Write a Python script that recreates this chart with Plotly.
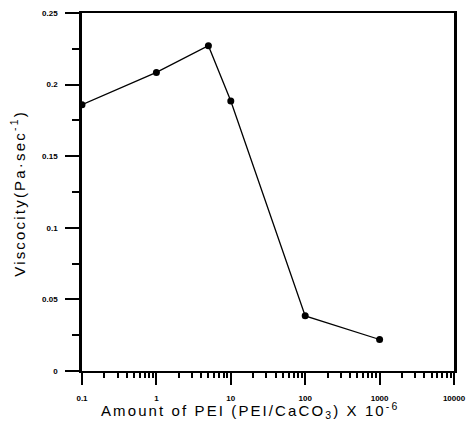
import plotly.graph_objects as go

pei_amount = [0.1, 1, 5, 10, 100, 1000]
viscosity = [0.186, 0.2085, 0.2272, 0.1885, 0.0385, 0.022]

x_tickvals = [0.1, 1, 10, 100, 1000, 10000]
x_ticktext = ["0.1", "1", "10", "100", "1000", "10000"]
y_tickvals = [0, 0.05, 0.1, 0.15, 0.2, 0.25]
y_ticktext = ["0", "0.05", "0.1", "0.15", "0.2", "0.25"]
y_minor_vals = [0.025, 0.075, 0.125, 0.175, 0.225]

minor_x = [m * d for d in [0.1, 1, 10, 100, 1000] for m in range(2, 10)]

font_family = "Liberation Sans, Arial, sans-serif"
tick_font = dict(size=8, family=font_family, weight="bold")

fig = go.Figure()
fig.add_trace(go.Scatter(
    x=pei_amount, y=viscosity, mode="lines+markers",
    line=dict(color="black", width=1.3),
    marker=dict(color="black", size=7),
    showlegend=False,
))
# empty helper trace so the overlay tick axes are drawn
fig.add_trace(go.Scatter(x=[], y=[], xaxis="x2", yaxis="y2",
                         showlegend=False, hoverinfo="skip"))

fig.update_layout(
    width=466, height=429,
    margin=dict(l=82, r=12, t=12.5, b=57.5, autoexpand=False),
    paper_bgcolor="white", plot_bgcolor="white",
    font=dict(family=font_family, color="black"),
    xaxis=dict(
        type="log", range=[-1, 4], automargin=False,
        tickmode="array", tickvals=x_tickvals, ticktext=x_ticktext,
        ticks="outside", ticklen=12, tickwidth=2, tickcolor="black",
        showline=True, linewidth=2, linecolor="black", mirror=True,
        showgrid=False, zeroline=False,
        tickfont=tick_font, ticklabelstandoff=6,
        minor=dict(tickvals=minor_x, ticks="outside", ticklen=5,
                   tickwidth=2, tickcolor="black", showgrid=False),
    ),
    yaxis=dict(
        range=[0, 0.25], automargin=False,
        tickmode="array", tickvals=y_tickvals, ticktext=y_ticktext,
        ticks="outside", ticklen=14, tickwidth=2, tickcolor="black",
        showline=True, linewidth=2.5, linecolor="black", mirror=True,
        showgrid=False, zeroline=False,
        tickfont=tick_font, ticklabelstandoff=6,
        minor=dict(tickvals=y_minor_vals, ticks="outside", ticklen=7,
                   tickwidth=2, tickcolor="black", showgrid=False),
    ),
    # overlay axes that draw the long (major) tick marks
    xaxis2=dict(
        type="log", range=[-1, 4], overlaying="x", anchor="y2", side="bottom",
        automargin=False, showticklabels=False, showline=False,
        showgrid=False, zeroline=False,
        tickmode="array", tickvals=[1e-5], ticks="",
        minor=dict(tickvals=x_tickvals, ticks="outside", ticklen=12,
                   tickwidth=2, tickcolor="black", showgrid=False),
    ),
    yaxis2=dict(
        range=[0, 0.25], overlaying="y", anchor="x2", side="left",
        automargin=False, showticklabels=False, showline=False,
        showgrid=False, zeroline=False,
        tickmode="array", tickvals=[-1], ticks="",
        minor=dict(tickvals=y_tickvals, ticks="outside", ticklen=14,
                   tickwidth=2, tickcolor="black", showgrid=False),
    ),
    annotations=[
        dict(text='<span style="letter-spacing:2.2px">Viscocity(Pa·sec<sup>-1</sup>)</span>',
             xref="paper", yref="paper",
             x=-0.172, y=0.495, textangle=-90, showarrow=False,
             font=dict(size=15, family=font_family), xanchor="center", yanchor="middle"),
        dict(text='<span style="letter-spacing:2.1px">Amount of PEI (PEI/CaCO<sub>3</sub>) X 10<sup>-6</sup></span>',
             xref="paper", yref="paper",
             x=0.4516, y=-0.11, showarrow=False,
             font=dict(size=15, family=font_family), xanchor="center", yanchor="middle"),
    ],
)

fig.write_html("out.html", config={"displayModeBar": False},
               post_script="document.body.style.margin='0';document.body.style.overflow='hidden';")
